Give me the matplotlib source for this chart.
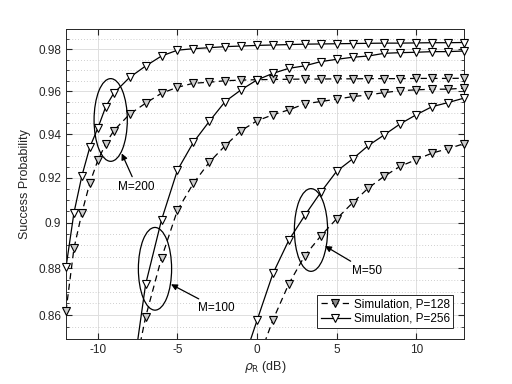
import matplotlib
matplotlib.use('Agg')
import matplotlib.pyplot as plt
from matplotlib.lines import Line2D
from matplotlib.patches import Ellipse
from matplotlib.ticker import FixedLocator, FuncFormatter, NullFormatter

plt.rcParams['font.family'] = ['Liberation Sans', 'DejaVu Sans']
plt.rcParams['axes.unicode_minus'] = False

# x axis (rho_R in dB) for each group of curves
snr_m200 = [-12, -11.5, -11, -10.5, -10, -9.5, -9, -8, -7, -6, -5, -4, -3, -2, -1,
            0, 1, 2, 3, 4, 5, 6, 7, 8, 9, 10, 11, 12, 13]
snr_m100 = [-8, -7, -6, -5, -4, -3, -2, -1, 0, 1, 2, 3, 4, 5, 6, 7, 8, 9, 10, 11, 12, 13]
snr_m50_p256 = [-1, 0, 1, 2, 3, 4, 5, 6, 7, 8, 9, 10, 11, 12, 13]
snr_m50_p128 = [0, 1, 2, 3, 4, 5, 6, 7, 8, 9, 10, 11, 12, 13]

# success probability, P=256 (solid) and P=128 (dashed)
m200_p256 = [0.8805, 0.9044, 0.9210, 0.9341, 0.9428, 0.9528, 0.9591, 0.9666, 0.9720,
             0.9768, 0.9796, 0.9803, 0.9808, 0.9813, 0.9816, 0.9819, 0.9821, 0.9823,
             0.9825, 0.9826, 0.9827, 0.9828, 0.9829, 0.9830, 0.9830, 0.9831, 0.9832,
             0.9832, 0.9833]
m200_p128 = [0.8618, 0.8887, 0.9044, 0.9178, 0.9280, 0.9356, 0.9416, 0.9493, 0.9544,
             0.9591, 0.9619, 0.9638, 0.9643, 0.9650, 0.9653, 0.9655, 0.9656, 0.9657,
             0.9658, 0.9658, 0.9659, 0.9659, 0.9660, 0.9660, 0.9660, 0.9661, 0.9661,
             0.9661, 0.9662]
m100_p256 = [0.826, 0.8731, 0.9012, 0.9235, 0.9362, 0.9459, 0.9552, 0.9607, 0.9654,
             0.9685, 0.9709, 0.9721, 0.9741, 0.9752, 0.9762, 0.9768, 0.9781, 0.9784,
             0.9786, 0.9789, 0.9789, 0.9792]
m100_p128 = [0.827, 0.8592, 0.8845, 0.9055, 0.9175, 0.9271, 0.9347, 0.9416, 0.9462,
             0.9490, 0.9513, 0.9541, 0.9552, 0.9563, 0.9575, 0.9583, 0.9594, 0.9603,
             0.9607, 0.9610, 0.9610, 0.9615]
m50_p256 = [0.838, 0.8578, 0.8778, 0.8923, 0.9032, 0.9135, 0.9230, 0.9286, 0.9348,
            0.9397, 0.9448, 0.9490, 0.9528, 0.9547, 0.9568]
m50_p128 = [0.840, 0.858, 0.8734, 0.8855, 0.8941, 0.9017, 0.9088, 0.9155, 0.9208,
            0.9253, 0.9283, 0.9313, 0.9333, 0.9356]

y_ticks = [0.86, 0.88, 0.9, 0.92, 0.94, 0.96, 0.98]
x_ticks = [-10, -5, 0, 5, 10]
legend_labels = ['Simulation, P=128', 'Simulation, P=256']

fig = plt.figure(figsize=(5.12, 3.84), dpi=100)
ax = fig.add_axes([0.1289, 0.1172, 0.7773, 0.8081])
ax.set_yscale('log')
ax.set_xlim(-12, 13)
ax.set_ylim(0.85, 0.99)

dash = (0, (5, 3.5))
mk = dict(marker='v', markersize=6, markeredgewidth=0.8, markeredgecolor='k')


def draw_curve(x, y, style, face, first_marker):
    # line clipped to the axes, markers left unclipped like the original
    ax.plot(x, y, color='k', lw=0.9, linestyle=style)
    ax.plot(x[first_marker:], y[first_marker:], linestyle='none',
            markerfacecolor=face, clip_on=False, zorder=3, **mk)


draw_curve(snr_m200, m200_p128, dash, '0.8', 0)
draw_curve(snr_m200, m200_p256, '-', 'white', 0)
draw_curve(snr_m100, m100_p128, dash, '0.8', 1)
draw_curve(snr_m100, m100_p256, '-', 'white', 1)
draw_curve(snr_m50_p128, m50_p128, dash, '0.8', 1)
draw_curve(snr_m50_p256, m50_p256, '-', 'white', 1)

# axis formatting, MATLAB-like
ax.xaxis.set_major_locator(FixedLocator(x_ticks))
ax.yaxis.set_major_locator(FixedLocator(y_ticks))
ax.yaxis.set_major_formatter(FuncFormatter(lambda v, p: '%g' % v))
minor = [0.85 + 0.005 * i for i in range(29)]
ax.yaxis.set_minor_locator(FixedLocator(minor))
ax.yaxis.set_minor_formatter(NullFormatter())
ax.xaxis.set_minor_locator(FixedLocator([]))
ax.tick_params(which='both', direction='in', top=True, right=True,
               labelsize=8.5, colors='0.15')
ax.tick_params(which='major', length=4)
ax.tick_params(which='minor', length=2.5)
ax.grid(True, which='major', color='0.87', lw=0.7)
ax.grid(True, which='minor', axis='y', color='0.75', lw=0.6, linestyle=(0, (1, 2.5)))
ax.set_axisbelow(True)
for s in ax.spines.values():
    s.set_color('0.15')
    s.set_linewidth(0.7)

ax.set_xlabel(r'$\rho_{\mathrm{R}}$ (dB)', fontsize=9, color='0.15', labelpad=2)
ax.set_ylabel('Success Probability', fontsize=9, color='0.15', labelpad=5)

# ellipses and labels marking the M groups
ellipses = [(0.1123, 0.7058, 'M=200', (0.140, 0.598), (0.1776, 0.4908)),
            (0.2236, 0.2262, 'M=100', (0.2638, 0.1763), (0.3786, 0.0989)),
            (0.6156, 0.3513, 'M=50', (0.6508, 0.2997), (0.7555, 0.2201))]
for cx, cy, label, tip, txt in ellipses:
    ax.add_patch(Ellipse((cx, cy), 0.0835, 0.2665, transform=ax.transAxes,
                         fill=False, edgecolor='k', lw=0.9, zorder=4))
    ax.annotate(label, xy=tip, xycoords='axes fraction', xytext=txt,
                textcoords='axes fraction', ha='center', va='center', fontsize=8.5,
                arrowprops=dict(arrowstyle='-|>', color='k', lw=0.9,
                                mutation_scale=9, shrinkA=1, shrinkB=0))

handles = [Line2D([], [], color='k', lw=0.9, linestyle=dash, markerfacecolor='0.55', **mk),
           Line2D([], [], color='k', lw=0.9, linestyle='-', markerfacecolor='white', **mk)]
leg = ax.legend(handles, legend_labels, loc='lower right', fontsize=8.5,
                fancybox=False, framealpha=1, edgecolor='0.15', borderpad=0.3,
                labelspacing=0.2, handlelength=2.5, handletextpad=0.3,
                borderaxespad=0.9)
leg.get_frame().set_linewidth(0.7)

fig.savefig('out.png', dpi=100)
plt.close(fig)
